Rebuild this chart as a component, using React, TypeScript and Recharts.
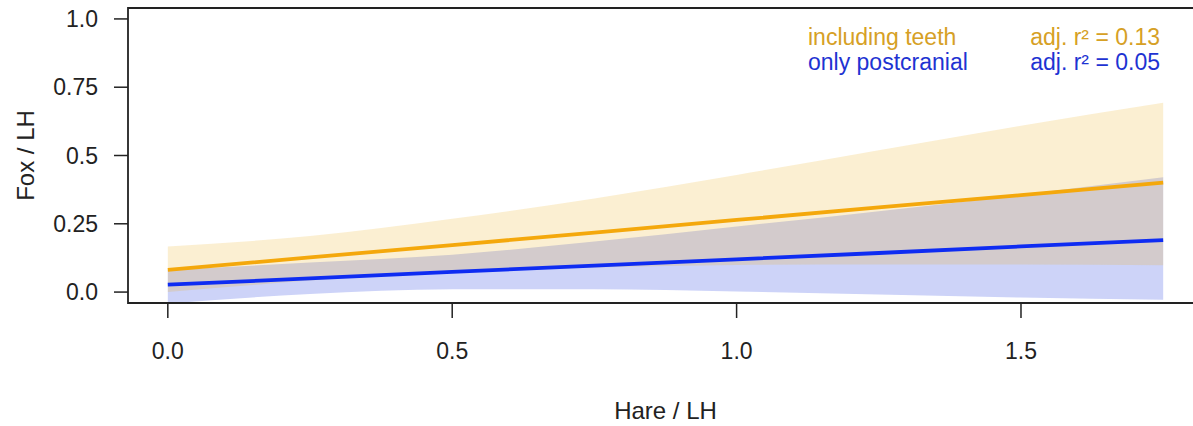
import React from 'react';
import {
  ComposedChart,
  Area,
  Line,
  XAxis,
  YAxis,
  ReferenceArea,
  Customized,
} from 'recharts';

// Hare / LH values at which the fitted regressions are evaluated
const hareLH = [0, 0.25, 0.5, 0.75, 1.0, 1.25, 1.5, 1.75];

// Model including teeth: fitted line and confidence band
const teethFit = [0.081, 0.127, 0.172, 0.218, 0.264, 0.31, 0.355, 0.401];
const teethLower = [0.0, 0.042, 0.076, 0.09, 0.099, 0.101, 0.101, 0.098];
const teethUpper = [0.167, 0.205, 0.268, 0.343, 0.429, 0.519, 0.609, 0.693];

// Model with only postcranial elements: fitted line and confidence band
const postFit = [0.027, 0.05, 0.074, 0.097, 0.12, 0.143, 0.167, 0.19];
const postLower = [-0.042, -0.007, 0.01, 0.01, 0.002, -0.009, -0.02, -0.028];
const postUpper = [0.08, 0.108, 0.137, 0.185, 0.24, 0.296, 0.356, 0.42];

const xTicks = [0, 0.5, 1.0, 1.5];
const yTicks = [0, 0.25, 0.5, 0.75, 1.0];
const yTickLabels = ['0.0', '0.25', '0.5', '0.75', '1.0'];
const xTickLabels = ['0.0', '0.5', '1.0', '1.5'];

const legendRows = [
  { name: 'including teeth', stat: 'adj. r\u00B2 = 0.13', color: '#D6A025' },
  { name: 'only postcranial', stat: 'adj. r\u00B2 = 0.05', color: '#1E33D2' },
];

const data = hareLH.map((x, i) => ({
  x,
  teethFit: teethFit[i],
  teethBand: [teethLower[i], teethUpper[i]],
  postFit: postFit[i],
  postBand: [postLower[i], postUpper[i]],
}));

const FONT = '"Liberation Sans", Arial, Helvetica, sans-serif';
const INK = '#222222';
const X_DOMAIN: [number, number] = [-0.07, 1.82];
const Y_DOMAIN: [number, number] = [-0.04, 1.04];

const LegendBlock = () => (
  <g fontFamily={FONT} fontSize={23}>
    {legendRows.map((r, i) => (
      <g key={r.name} fill={r.color}>
        <text x={808} y={45 + i * 25}>{r.name}</text>
        <text x={1160} y={45 + i * 25} textAnchor="end">{r.stat}</text>
      </g>
    ))}
  </g>
);

export default function App() {
  return (
    <div
      style={{
        position: 'fixed',
        left: 0,
        top: 0,
        width: 1193,
        height: 426,
        overflow: 'hidden',
        background: '#ffffff',
      }}
    >
      <ComposedChart
        width={1220}
        height={426}
        data={data}
        margin={{ top: 8, right: 17, bottom: 63, left: 0 }}
      >
        <XAxis
          dataKey="x"
          type="number"
          domain={X_DOMAIN}
          ticks={xTicks}
          allowDataOverflow
          height={60}
          tickSize={15}
          tickMargin={25}
          tickFormatter={(v: number) => xTickLabels[xTicks.indexOf(v)] ?? String(v)}
          tick={{ fill: INK, fontSize: 23, fontFamily: FONT }}
          tickLine={{ stroke: INK, strokeWidth: 1.5 }}
          axisLine={false}
          label={{
            value: 'Hare / LH',
            position: 'insideBottom',
            offset: -56,
            fill: INK,
            fontSize: 24,
            fontFamily: FONT,
          }}
        />
        <YAxis
          type="number"
          domain={Y_DOMAIN}
          ticks={yTicks}
          allowDataOverflow
          width={128}
          tickSize={14}
          tickMargin={16}
          tickFormatter={(v: number) => yTickLabels[yTicks.indexOf(v)] ?? String(v)}
          tick={{ fill: INK, fontSize: 23, fontFamily: FONT }}
          tickLine={{ stroke: INK, strokeWidth: 1.5 }}
          axisLine={false}
          label={{
            value: 'Fox / LH',
            angle: -90,
            position: 'insideLeft',
            offset: 25,
            fill: INK,
            fontSize: 24,
            fontFamily: FONT,
            style: { textAnchor: 'middle' },
          }}
        />
        <Area
          dataKey="postBand"
          type="monotone"
          stroke="none"
          fill="#0523DC"
          fillOpacity={0.2}
          isAnimationActive={false}
          dot={false}
          activeDot={false}
        />
        <Area
          dataKey="teethBand"
          type="monotone"
          stroke="none"
          fill="#EBAF1E"
          fillOpacity={0.2}
          isAnimationActive={false}
          dot={false}
          activeDot={false}
        />
        <Line
          dataKey="teethFit"
          type="linear"
          stroke="#F4A80C"
          strokeWidth={3.8}
          dot={false}
          activeDot={false}
          isAnimationActive={false}
        />
        <Line
          dataKey="postFit"
          type="linear"
          stroke="#0E2CF2"
          strokeWidth={3.8}
          dot={false}
          activeDot={false}
          isAnimationActive={false}
        />
        <ReferenceArea
          x1={X_DOMAIN[0]}
          x2={X_DOMAIN[1]}
          y1={Y_DOMAIN[0]}
          y2={Y_DOMAIN[1]}
          fill="none"
          stroke={INK}
          strokeWidth={1.8}
          ifOverflow="visible"
        />
        <Customized component={LegendBlock} />
      </ComposedChart>
    </div>
  );
}
